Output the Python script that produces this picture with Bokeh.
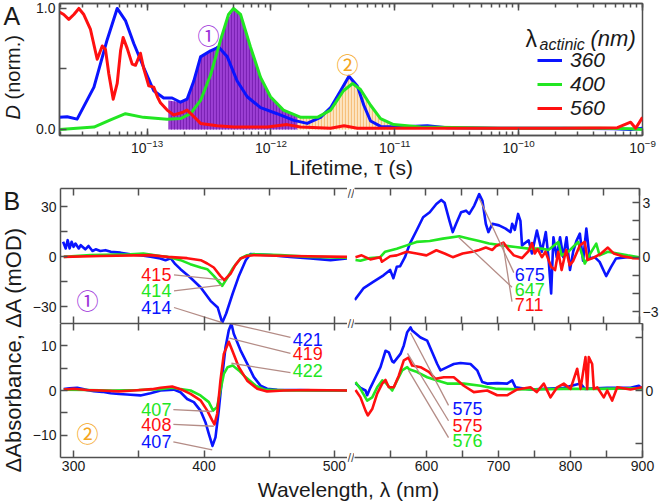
from bokeh.plotting import figure
from bokeh.models import (Range1d, LinearAxis, LogAxis, FixedTicker, LogTicker, Label,
                          Legend, LegendItem, CustomJSTickFormatter, PrintfTickFormatter,
                          ColumnDataSource)
from bokeh.layouts import row, column
from bokeh.core.properties import value
from bokeh.embed import file_html
from bokeh.resources import INLINE

# ---------------- data: panel A (lifetime density maps) ----------------
tau_360 = [1.96e-14, 2.26e-14, 2.72e-14, 3.72e-14, 4.75e-14, 5.73e-14, 6.68e-14, 7.80e-14, 9.40e-14,
           1.13e-13, 1.36e-13, 1.59e-13, 1.86e-13, 2.10e-13, 2.38e-13, 2.70e-13, 3.25e-13, 3.79e-13,
           4.44e-13, 5.33e-13, 6.43e-13, 8.24e-13, 1.12e-12, 1.53e-12, 1.96e-12, 2.51e-12, 3.03e-12,
           3.65e-12, 4.26e-12, 4.98e-12, 5.62e-12, 6.37e-12, 7.67e-12, 1.05e-11, 1.83e-11, 2.65e-11,
           6.73e-11, 2.32e-10, 5.89e-10, 8.02e-10, 1.0e-9]
D_360 = [0.10, 0.105, 0.085, 0.35, 0.74, 1.0, 0.9, 0.71, 0.51, 0.32, 0.26, 0.26, 0.225, 0.25, 0.40,
         0.6, 0.65, 0.68, 0.6, 0.40, 0.27, 0.18, 0.13, 0.075, 0.05, 0.1, 0.18, 0.32, 0.44, 0.36, 0.2,
         0.07, 0.025, 0.02, 0.03, 0.015, 0.01, 0.01, 0.005, 0.0, 0.01]

tau_400 = [1.96e-14, 3.72e-14, 5.06e-14, 6.68e-14, 9.33e-14, 1.45e-13, 1.86e-13, 2.24e-13, 2.70e-13,
           3.25e-13, 3.92e-13, 4.54e-13, 4.98e-13, 5.68e-13, 6.84e-13, 8.24e-13, 9.91e-13, 1.26e-12,
           1.74e-12, 2.37e-12, 3.03e-12, 3.85e-12, 4.56e-12, 5.28e-12, 6.37e-12, 7.67e-12, 9.77e-12,
           1.62e-11, 7.14e-11, 4.59e-10, 8.02e-10, 1.0e-9]
D_400 = [0.0, 0.02, 0.08, 0.13, 0.1, 0.085, 0.09, 0.13, 0.24, 0.45, 0.74, 0.95, 1.0, 0.95, 0.68, 0.43,
         0.27, 0.16, 0.1, 0.1, 0.16, 0.32, 0.38, 0.33, 0.2, 0.09, 0.04, 0.02, 0.01, 0.01, 0.005, 0.0]

tau_560 = [1.96e-14, 2.12e-14, 2.33e-14, 2.56e-14, 2.81e-14, 3.08e-14, 3.48e-14, 3.95e-14, 4.34e-14,
           4.61e-14, 4.90e-14, 5.32e-14, 5.73e-14, 6.10e-14, 6.40e-14, 6.90e-14, 7.57e-14, 8.05e-14,
           8.83e-14, 9.40e-14, 1.03e-13, 1.13e-13, 1.21e-13, 1.28e-13, 1.45e-13, 1.64e-13, 1.92e-13,
           2.10e-13, 2.31e-13, 2.70e-13, 3.68e-13, 5.01e-13, 9.33e-13, 1.35e-12, 1.73e-12, 3.03e-12,
           3.89e-12, 4.98e-12, 2.82e-11, 2.19e-10, 6.27e-10, 8.02e-10, 8.81e-10, 1.0e-9]
D_560 = [0.97, 0.95, 0.91, 0.95, 1.0, 0.95, 0.83, 0.58, 0.69, 0.66, 0.46, 0.25, 0.38, 0.65, 0.76, 0.67,
         0.54, 0.53, 0.63, 0.5, 0.36, 0.35, 0.27, 0.22, 0.16, 0.12, 0.14, 0.16, 0.12, 0.05, 0.03, 0.02,
         0.02, 0.04, 0.02, 0.01, 0.03, 0.01, 0.01, 0.01, 0.015, 0.06, 0.01, 0.10]

tau_shade1 = [1.49e-13, 1.86e-13, 2.10e-13, 2.38e-13, 2.70e-13, 3.25e-13, 3.79e-13, 4.44e-13, 4.98e-13,
              5.68e-13, 6.84e-13, 8.24e-13, 9.91e-13, 1.26e-12, 1.64e-12]
D_shade1 = [0.24, 0.225, 0.25, 0.40, 0.6, 0.65, 0.70, 0.9, 1.0, 0.95, 0.68, 0.43, 0.27, 0.16, 0.1]
tau_shade2 = [1.64e-12, 2.37e-12, 3.03e-12, 3.65e-12, 4.26e-12, 4.98e-12, 5.62e-12, 6.37e-12,
              7.67e-12, 9.77e-12]
D_shade2 = [0.1, 0.1, 0.18, 0.32, 0.44, 0.37, 0.27, 0.2, 0.09, 0.04]

# ---------------- data: panel B, component 1 ----------------
wl_c1_uv_360 = [292, 294, 295.5, 297, 298.5, 300, 301.5, 304, 305.5, 309, 311.5, 314.5, 317, 320.5, 324.5,
                328.5, 336, 343.5, 351, 359, 366.5, 370.5, 374.5, 378, 382, 389.5, 397.5, 405, 410.5,
                414, 417, 422, 426.5, 432, 435.5, 439.5, 451, 466, 481.5, 497, 510]
dA_c1_uv_360 = [9, 5, 10, 5, 9, 6, 8, 5, 7, 4.5, 6.5, 3.5, 4.5, 3.5, 4, 3, 2.5, 1.5, 1, 0, -1, -2, -0.8,
                -4.4, -7.4, -12.4, -18.4, -26.4, -30.4, -39.5, -34, -22, -12, -2, 1.6, 1.5, 1, 0, -1, -2, -1]
wl_c1_uv_400 = [292.5, 313, 343.5, 353.5, 366.5, 372, 382, 389.5, 397.5, 402.5, 407.5, 414, 418, 422.5,
                428, 433, 438, 458.5, 481.5, 510]
dA_c1_uv_400 = [0, 1, 1.5, 2, 0.5, 0, -2, -4.4, -6.4, -7.4, -11.4, -17.4, -12.4, -6.4, -1, 1, 1.6, 1, 0, -0.5]
wl_c1_uv_560 = [292.5, 320.5, 359, 372, 387, 397.5, 402.5, 407.5, 412.5, 415.5, 420.5, 424, 428, 433,
                438, 466, 510]
dA_c1_uv_560 = [0, 0.5, 1, 0, -0.8, -2, -4, -6.4, -11.4, -14, -10, -5, -1, 0.5, 1, 0.5, 0]

wl_c1_vis_360 = [500.4, 512.9, 526.8, 540.7, 550, 554.6, 559.3, 563.9, 570.8, 577.8, 587.1, 596.3, 605.6,
                 614.9, 621.8, 626.4, 633.3, 637.9, 642.6, 649.6, 656.5, 661.1, 668.1, 675, 679.6, 684.3,
                 687.9, 693.5, 702.8, 712.1, 719, 721.3, 725, 729.6, 732.9, 735.1, 744.4, 749, 756,
                 762.9, 768.5, 772.2, 776, 779.2, 783.8, 788.5, 793.1, 797.6, 802.4, 806.9, 811.5,
                 816.3, 820.8, 825.4, 830.1, 837.1, 844, 853.2, 860.1, 867.1, 883.3, 899.6]
dA_c1_vis_360 = [-2.35, -1.7, -1.35, -1.0, -0.7, -1.16, -0.53, -0.5, 0, 0.75, 1.47, 2.2, 2.47, 2.93, 3.15,
                 3.0, 2.0, 1.38, 1.84, 2.47, 2.56, 2.38, 2.84, 3.47, 3.1, 1.84, 1.38, 1.84, 1.75, 1.57,
                 1.38, 1.84, 1.5, 2.38, 2.0, 0.65, 0.93, 0.2, 1.47, 0.3, 1.38, 0, -2.0, 1.1, 0, 1.1, 0,
                 1.1, -0.7, 0.3, 0.9, 1.3, -0.2, 1.57, -0.07, 0, -0.26, -1.04, -0.53, -0.07, 0, 0]
wl_c1_vis_400 = [501.4, 508.3, 522, 536, 543, 559.3, 573.2, 587.1, 605.6, 624, 647, 661.1, 675, 688.9,
                 707.4, 726, 744.4, 762.9, 772.2, 786.1, 790.7, 800, 813.9, 823.2, 832.4, 839.3, 844,
                 855.6, 869.4, 883.3, 899.6]
dA_c1_vis_400 = [-0.16, -0.2, -0.05, 0, 0.3, 0.47, 0.65, 0.84, 0.89, 1.02, 1.15, 1.02, 0.89, 0.75, 0.65,
                 0.56, 0.47, 0.47, 0.4, 0.84, 0.1, 0.3, 0.84, -0.35, 0.3, 0.75, 0.1, 0.3, 0.2, 0.1, 0]
wl_c1_vis_560 = [501.4, 510, 522.2, 536, 538.5, 550, 559.3, 573.2, 587.1, 601, 614.9, 626.4, 637.9, 651.8,
                 665.7, 675, 684.3, 693.5, 698.2, 709, 716.7, 723.6, 735, 744.4, 749, 753, 757, 763, 768,
                 776, 781.5, 786, 790.7, 797, 802, 807, 816.3, 823.2, 827, 837, 846, 855.6, 864, 876,
                 890, 899.6]
dA_c1_vis_560 = [0, 0.1, -0.12, 0, -0.25, 0.05, 0.1, 0.3, 0.2, 0.1, 0.38, 0.2, 0, 0.2, 0.3, 0.4, 0.53,
                 0.4, 0.6, 0.8, 0.4, 0.1, -0.05, 0.34, 0.78, 0.2, 0.45, 0, 0.3, -0.53, -0.71, 0.3, -0.71,
                 0.4, -0.44, -0.2, 0.65, 0.84, -0.16, 0, 0.2, 0.53, 0.2, 0.05, -0.05, -0.07]

# ---------------- data: panel B, component 2 ----------------
wl_c2_uv_360 = [292.5, 297, 302.8, 309, 315.6, 322, 328.4, 335, 341.1, 351.3, 359, 366.7, 376.9, 382,
                387.1, 392.2, 397.3, 401.1, 403.7, 406.5, 408.8, 411.3, 413.9, 416.5, 419, 421, 422.8,
                428, 433.1, 438.2, 443.3, 448.4, 456.1, 473.9, 490, 510]
dA_c2_uv_360 = [0.3, 0.5, 0.6, 0.2, -0.15, -0.3, -0.6, -0.8, -0.9, -1.1, -0.6, 0, 0.2, -0.4, -1.9, -2.6,
                -4.5, -7.1, -9.7, -12.4, -10.5, -4.5, 3, 9.7, 13.5, 15, 12.7, 9, 6, 3, 1.1, 0.4, 0.15,
                0.1, 0, 0]
wl_c2_uv_400 = [292.5, 310, 330, 350, 366.7, 376, 382, 389.7, 397.3, 403.7, 407, 410, 412.6, 415.2, 418,
                422, 426.7, 431.8, 439.5, 447, 470, 510]
dA_c2_uv_400 = [0.2, 0.1, 0, 0.1, 0.3, 0.6, 0.3, 0, -1.1, -2.6, -4.5, -3.7, 0, 3.7, 5.2, 5.6, 4.5, 3,
                1.1, 0.15, 0, 0]
wl_c2_uv_560 = [292.5, 300, 310, 320.7, 335, 346.2, 360, 366.7, 375.6, 382, 389.7, 397.3, 402.5, 406.3,
                408, 410.1, 412.6, 415.2, 419, 421.6, 426.7, 433.1, 440.8, 448.4, 461.1, 480, 510]
dA_c2_uv_560 = [0.2, 0.4, 0.1, 0, -0.2, 0, 0.3, 0.6, 0.9, 0.3, -0.75, -2.2, -4.5, -6.7, -7.6, -5.2, 2.2,
                8.2, 10.9, 9, 5.2, 2.2, 0.4, -0.2, 0, 0.1, 0]

wl_c2_vis_360 = [501.4, 508.3, 515.3, 517.6, 522, 529.2, 536.1, 543.1, 547.6, 552.4, 554.6, 563.9, 568.5,
                 573.2, 577.8, 580.1, 591.7, 601, 607.9, 614.9, 619.4, 628.8, 637.9, 647.2, 661.1,
                 670.4, 677.4, 684.3, 698.2, 712, 719, 723.6, 744.4, 790.7, 813.9, 820, 851, 883.3,
                 894.9, 899.6]
dA_c2_vis_360 = [0.14, 0.05, 0, -0.09, 0.05, 0.25, 0.44, 0.75, 0.72, 0.55, 0.53, 0.69, 0.85, 1.1, 1.19,
                 1.13, 1.0, 0.94, 0.72, 0.5, 0.38, 0.44, 0.5, 0.52, 0.5, 0.38, 0.16, 0.13, 0.14, 0.13,
                 0.19, 0.06, 0.02, 0.05, 0.13, 0.03, 0.05, 0.05, 0.09, 0.03]
wl_c2_vis_400 = [501.4, 508.3, 517.6, 524.6, 531.5, 538.5, 543.1, 552.4, 559.5, 566.2, 573.2, 576, 585,
                 601, 614.9, 628.8, 651.8, 675, 698.2, 744.4, 790.7, 837.1, 899.6]
dA_c2_vis_400 = [0.16, 0.03, -0.19, -0.13, 0.06, 0.19, 0.15, 0, 0.2, 0.38, 0.44, 0.4, 0.36, 0.25, 0.19,
                 0.13, 0.13, 0.09, 0.03, 0.02, 0.03, 0.03, 0.04]
wl_c2_vis_560 = [501.4, 508.3, 515.3, 518.5, 524.6, 531.5, 538.5, 543.1, 547.6, 554.6, 561.5, 568.5, 575,
                 580.1, 591.7, 603.2, 612.5, 624, 637.9, 651.8, 665.7, 684.3, 698.2, 712, 726, 744.4,
                 753, 762.9, 772.2, 781.5, 790.7, 800, 809.3, 813.9, 820.8, 823.2, 825.4, 830.1, 832.4,
                 837.1, 846.2, 851, 857.9, 864.9, 883.3, 899.6]
dA_c2_vis_560 = [0.01, -0.13, -0.38, -0.47, -0.35, -0.06, 0.13, 0.2, 0.06, 0.06, 0.28, 0.57, 0.62, 0.47,
                 0.44, 0.35, 0.22, 0.25, 0.25, 0.09, -0.03, 0.0, -0.09, -0.09, 0.02, 0.06, -0.03, 0.13,
                 -0.13, 0.06, 0.13, 0.03, 0.41, 0.03, 0.63, 0.03, 0.63, 0.5, 0.03, 0.06, -0.13, 0, -0.19,
                 0.06, 0.02, 0.06]

# annotation labels (peak wavelengths)
c1_uv_labels = ["415", "414", "414"]
c1_vis_labels = ["675", "647", "711"]
c2_uv_left_labels = ["407", "408", "407"]
c2_uv_right_labels = ["421", "419", "422"]
c2_vis_labels = ["575", "575", "576"]
actinic_labels = ["360", "400", "560"]

# ---------------- styling ----------------
FONT = "Liberation Sans"
CJK = "Noto Sans CJK JP"
AX = "#505050"
BLUE = "#0a14ff"
GREEN = "#22e622"
RED = "#ff1010"
PURPLE = "#9b30d9"
ORANGE = "#f5a623"
LEADER = "#b48c86"
INK = "#1a1a1a"


def style_axis(ax, tin=7, minor_in=None, labels=True, size="14px", standoff=4):
    ax.axis_line_color = AX
    ax.axis_line_width = 1.5
    ax.major_tick_line_color = AX
    ax.minor_tick_line_color = AX
    ax.major_tick_line_width = 1.5
    ax.minor_tick_line_width = 1.5
    ax.major_tick_in = tin
    ax.major_tick_out = 0
    ax.minor_tick_in = tin if minor_in is None else minor_in
    ax.minor_tick_out = 0
    ax.major_label_text_font = FONT
    ax.major_label_text_font_size = size
    ax.major_label_text_color = INK
    ax.major_label_standoff = standoff
    if not labels:
        ax.formatter = CustomJSTickFormatter(code="return ''")
        ax.major_label_text_font_size = "0px"
        ax.major_label_standoff = 0


def bare(p):
    p.grid.visible = False
    p.background_fill_color = "white"
    p.border_fill_color = "white"


def screen_label(p, x, y, text, size, **kw):
    kw.setdefault("text_color", INK)
    p.add_layout(Label(x=x, y=y, x_units="screen", y_units="screen", text=text, text_font=FONT,
                       text_font_size=size, **kw))


def strip(width, height):
    s = figure(width=width, height=height, x_range=Range1d(0, 1), y_range=Range1d(0, 1),
               output_backend="svg", toolbar_location=None, x_axis_location=None,
               y_axis_location=None, min_border=0, frame_align=False)
    bare(s)
    s.outline_line_color = None
    return s


# ---------------- panel A ----------------
stripA = strip(28, 185)
screen_label(stripA, 3, 170, "A", "25px", text_baseline="middle")
screen_label(stripA, 12, 66, "D", "20px", angle=90, angle_units="deg", text_font_style="italic",
             text_baseline="middle", text_align="left")
screen_label(stripA, 12, 86, "(norm.)", "20px", angle=90, angle_units="deg",
             text_baseline="middle", text_align="left")

pA = figure(width=633, height=185, x_axis_type="log", x_range=Range1d(1.96e-14, 1e-9),
            y_range=Range1d(-0.05, 1.041), output_backend="svg", toolbar_location=None,
            min_border_left=31, min_border_right=19, min_border_top=3, min_border_bottom=50,
            frame_align=False)
bare(pA)
pA.outline_line_color = AX
pA.outline_line_width = 1.5
pA.xaxis.ticker = LogTicker(num_minor_ticks=10)
style_axis(pA.xaxis[0], tin=7, minor_in=4, standoff=3)
pA.xaxis.axis_label = "Lifetime, \u03c4 (s)"
pA.xaxis.axis_label_text_font = FONT
pA.xaxis.axis_label_text_font_size = "21px"
pA.xaxis.axis_label_text_font_style = "normal"
pA.xaxis.axis_label_text_color = INK
pA.xaxis.axis_label_standoff = 0
pA.yaxis.ticker = FixedTicker(ticks=[0, 1], minor_ticks=[0.5])
pA.yaxis.formatter = PrintfTickFormatter(format="%.1f")
style_axis(pA.yaxis[0], tin=7)
topA = LogAxis(ticker=LogTicker(num_minor_ticks=10))
style_axis(topA, tin=7, minor_in=4, labels=False)
pA.add_layout(topA, "above")

pA.varea(x=tau_shade1, y1=0, y2=D_shade1, fill_color="#9c3fd4", hatch_pattern="vertical_line",
         hatch_color="#7b22b4", hatch_scale=3, hatch_weight=1.2)
pA.varea(x=tau_shade2, y1=0, y2=D_shade2, fill_color="#fde4c2", hatch_pattern="vertical_line",
         hatch_color="#f6c07c", hatch_scale=3, hatch_weight=1.2)
rb = pA.line(tau_360, D_360, line_color=BLUE, line_width=3, line_join="round")
rg = pA.line(tau_400, D_400, line_color=GREEN, line_width=3, line_join="round")
rr = pA.line(tau_560, D_560, line_color=RED, line_width=3, line_join="round")

leg = Legend(items=[LegendItem(label=actinic_labels[0], renderers=[rb]),
                    LegendItem(label=actinic_labels[1], renderers=[rg]),
                    LegendItem(label=actinic_labels[2], renderers=[rr])],
             location=(478, 15), background_fill_alpha=0, border_line_color=None,
             label_text_font=FONT, label_text_font_style="italic", label_text_font_size="21px",
             label_text_line_height=1.0, label_text_color=INK, glyph_width=25, glyph_height=18,
             label_height=18, label_standoff=8, spacing=0, padding=0, margin=0)
pA.add_layout(leg)

screen_label(pA, 466, 97, "\u03bb", "23px", text_baseline="alphabetic")
screen_label(pA, 480, 91, "actinic", "16px", text_font_style="italic", text_baseline="alphabetic")
screen_label(pA, 531, 97, "(nm)", "22px", text_font_style="italic", text_baseline="alphabetic")
pA.add_layout(Label(x=3.13e-13, y=0.79, text="\u2460", text_font=CJK, text_font_size="22px",
                    text_color=PURPLE, text_align="center", text_baseline="middle"))
pA.add_layout(Label(x=4.15e-12, y=0.55, text="\u2461", text_font=CJK, text_font_size="22px",
                    text_color=ORANGE, text_align="center", text_baseline="middle"))


# ---------------- panel B helpers ----------------
def make_fig(width, height, xr, yr, bl, br, bt, bb):
    p = figure(width=width, height=height, x_range=Range1d(*xr), y_range=Range1d(*yr),
               output_backend="svg", toolbar_location=None, x_axis_location=None,
               y_axis_location=None, min_border_left=bl, min_border_right=br,
               min_border_top=bt, min_border_bottom=bb, frame_align=False)
    bare(p)
    p.outline_line_color = None
    return p


def add_x_axes(p, ticks, minor, bottom_labels):
    top = LinearAxis(ticker=FixedTicker(ticks=ticks, minor_ticks=minor))
    style_axis(top, labels=False)
    p.add_layout(top, "above")
    bot = LinearAxis(ticker=FixedTicker(ticks=ticks, minor_ticks=minor))
    style_axis(bot, labels=bottom_labels, standoff=3)
    p.add_layout(bot, "below")


def add_y_axis(p, side, ticks, minor):
    ax = LinearAxis(ticker=FixedTicker(ticks=ticks, minor_ticks=minor))
    style_axis(ax, standoff=4 if side == "left" else 3)
    p.add_layout(ax, side)


def curves(p, sets):
    for xs, ys, c in sets:
        p.line(xs, ys, line_color=c, line_width=2.6, line_join="round")


def annotate(p, xs, ys, texts, colors, align, x0, y0, x1, y1, size="18px"):
    p.segment(x0=x0, y0=y0, x1=x1, y1=y1, line_color=LEADER, line_width=1.3)
    src = ColumnDataSource(dict(x=xs, y=ys, t=texts, c=colors))
    p.text(x="x", y="y", text="t", text_color="c", source=src, text_font=value(FONT),
           text_font_size=size, text_align=align, text_baseline="middle")


# top-left: component 1, UV probe
pTL = make_fig(319, 138, (290, 510), (-40, 41), 32, 0, 3, 0)
add_x_axes(pTL, [300, 400, 500], [350, 450], False)
add_y_axis(pTL, "left", [-30, 0, 30], [-15, 15])
curves(pTL, [(wl_c1_uv_360, dA_c1_uv_360, BLUE), (wl_c1_uv_400, dA_c1_uv_400, GREEN),
             (wl_c1_uv_560, dA_c1_uv_560, RED)])
annotate(pTL, [375, 375, 375], [-10.8, -20.4, -30.4], c1_uv_labels, [RED, GREEN, BLUE], "right",
         [377, 377, 377], [-10.8, -20.4, -30.4], [414, 413.5, 414], [-13.8, -17, -39.5])
pTL.add_layout(Label(x=310.7, y=-25.2, text="\u2460", text_font=CJK, text_font_size="22px",
                     text_color=PURPLE, text_align="center", text_baseline="middle"))

# top-right: component 1, visible probe
pTR = make_fig(307, 138, (500, 900), (-3.65, 3.78), 0, 19, 3, 0)
add_x_axes(pTR, [600, 700, 800, 900], [550, 650, 750, 850], False)
add_y_axis(pTR, "right", [-3, 0, 3], [-2, -1, 1, 2])
curves(pTR, [(wl_c1_vis_360, dA_c1_vis_360, BLUE), (wl_c1_vis_400, dA_c1_vis_400, GREEN),
             (wl_c1_vis_560, dA_c1_vis_560, RED)])
annotate(pTR, [725, 725, 725], [-0.98, -1.8, -2.62], c1_vis_labels, [BLUE, GREEN, RED], "left",
         [675, 646, 708], [3.25, 1.1, 0.8], [723.6, 721, 721], [-0.85, -1.65, -2.45])

# bottom-left: component 2, UV probe
pBL = make_fig(319, 153, (290, 510), (-15, 15), 32, 0, 0, 19)
add_x_axes(pBL, [300, 400, 500], [350, 450], True)
add_y_axis(pBL, "left", [-10, 0, 10], [-5, 5])
curves(pBL, [(wl_c2_uv_360, dA_c2_uv_360, BLUE), (wl_c2_uv_400, dA_c2_uv_400, GREEN),
             (wl_c2_uv_560, dA_c2_uv_560, RED)])
annotate(pBL, [375, 375, 375], [-4.3, -7.6, -11.5], c2_uv_left_labels, [GREEN, RED, BLUE], "right",
         [376.5, 376.5, 376.5], [-4.3, -7.6, -11.5], [406.3, 407.5, 406.3], [-4.7, -8.0, -13.3])
annotate(pBL, [468, 468, 468], [11.5, 8.3, 4.5], c2_uv_right_labels, [BLUE, RED, GREEN], "left",
         [420.3, 419.5, 421], [15, 11.7, 6.1], [466.3, 466.3, 466.3], [11.9, 8.3, 4.0])
pBL.add_layout(Label(x=310.7, y=-9.4, text="\u2461", text_font=CJK, text_font_size="22px",
                     text_color=ORANGE, text_align="center", text_baseline="middle"))

# bottom-right: component 2, visible probe
pBR = make_fig(307, 153, (500, 900), (-1.264, 1.264), 0, 19, 0, 19)
add_x_axes(pBR, [600, 700, 800, 900], [550, 650, 750, 850], True)
add_y_axis(pBR, "right", [0], [-1, 1])
curves(pBR, [(wl_c2_vis_360, dA_c2_vis_360, BLUE), (wl_c2_vis_400, dA_c2_vis_400, GREEN),
             (wl_c2_vis_560, dA_c2_vis_560, RED)])
annotate(pBR, [636, 636, 636], [-0.34, -0.66, -0.94], c2_vis_labels, [BLUE, RED, GREEN], "left",
         [577.8, 573.6, 575], [1.09, 0.7, 0.38], [630.6, 630.6, 630.6], [-0.28, -0.57, -0.89])

# axis-break gap between the UV and visible probe windows
gap = strip(7, 291)
screen_label(gap, 3.5, 291, "//", "13px", text_color=AX, text_align="center", text_baseline="top")
screen_label(gap, 3.5, 153, "//", "13px", text_color=AX, text_align="center", text_baseline="middle")
screen_label(gap, 3.5, 19, "//", "13px", text_color=AX, text_align="center", text_baseline="middle")

# left strip: panel letter and shared y title
pL = strip(28, 291)
screen_label(pL, 3, 276, "B", "25px", text_baseline="middle")
screen_label(pL, 13, 127, "\u0394Absorbance, \u0394A (mOD)", "22px", angle=90, angle_units="deg",
             text_align="center", text_baseline="middle")

# bottom strip: shared x title
pX = strip(661, 26)
screen_label(pX, 348, 13, "Wavelength, \u03bb (nm)", "21px", text_align="center",
             text_baseline="middle", text_line_height=1.0)

layout = column(row(stripA, pA),
                row(pL, column(pTL, pBL), gap, column(pTR, pBR)),
                pX)
open("out.html", "w").write(file_html(layout, INLINE))
